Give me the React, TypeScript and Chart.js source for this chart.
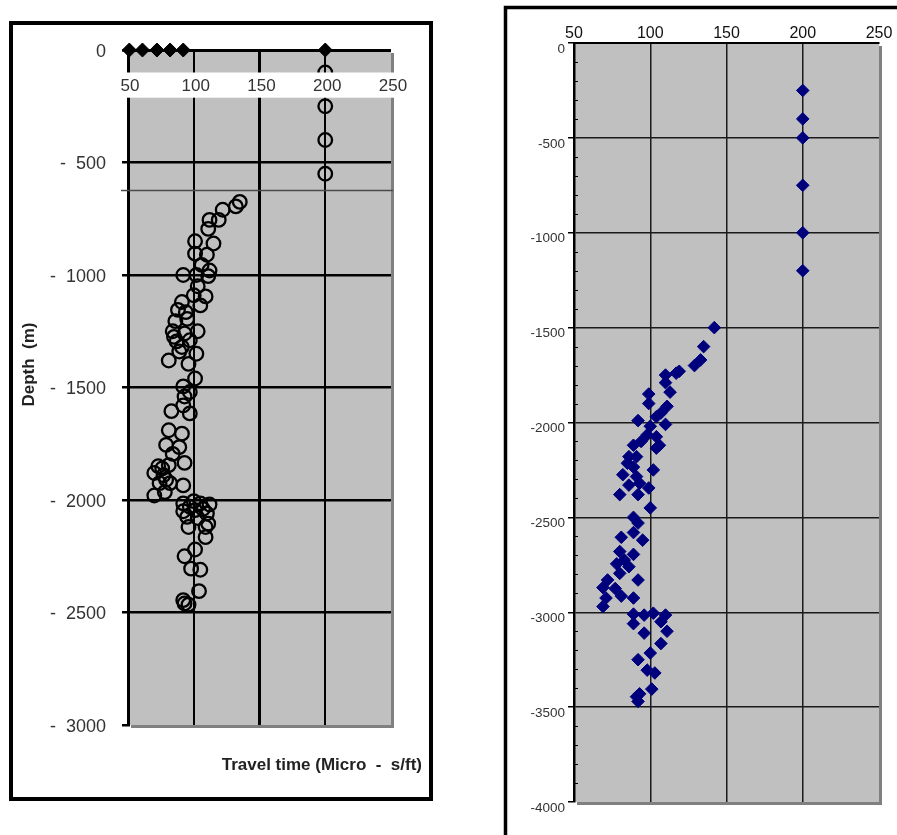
import { useEffect, useRef } from 'react';
import { Chart, registerables } from 'chart.js';

Chart.register(...registerables);

const FONT = '"Liberation Sans", Arial, Helvetica, sans-serif';
const CLEAR = 'rgba(0,0,0,0)';

// ---------- Left log: sonic travel time against depth (m) ----------
const LEFT_X_TICKS = [50, 100, 150, 200, 250];
const LEFT_X_TITLE = 'Travel time (Micro  -  s/ft)';
const LEFT_Y_TITLE = 'Depth  (m)';

// markers sitting on the surface line
const LEFT_SURFACE_TT = [51, 61, 72, 82, 92, 200];
const LEFT_SURFACE_DEPTH = [0, 0, 0, 0, 0, 0];

// shallow readings on the 200 line
const LEFT_SHALLOW_TT = [200, 200, 200, 200];
const LEFT_SHALLOW_DEPTH = [-100, -250, -400, -550];

// main log section
const LEFT_TT = [
  135, 132, 122, 112, 119, 111, 101, 115, 101, 110,
  106, 112, 92, 102, 111, 103, 109, 100, 91, 105,
  94, 88, 86, 95, 103, 84, 93, 87, 97, 85,
  102, 89, 91, 81, 96, 101, 92, 97, 93, 92,
  83, 97, 81, 91, 79, 89, 84, 93, 73, 81,
  76, 70, 77, 74, 82, 79, 92, 70, 78, 92,
  100, 105, 112, 97, 92, 101, 110, 107, 95, 103,
  96, 111, 109, 109, 101, 93, 98, 105, 104, 92,
  96, 93,
];
const LEFT_DEPTH = [
  -675, -695, -710, -755, -755, -795, -850, -860, -905, -910,
  -955, -980, -1000, -1000, -1005, -1050, -1095, -1090, -1120, -1135,
  -1165, -1155, -1205, -1195, -1250, -1250, -1260, -1295, -1290, -1275,
  -1350, -1340, -1320, -1380, -1395, -1460, -1495, -1520, -1540, -1580,
  -1605, -1615, -1690, -1705, -1755, -1765, -1795, -1835, -1850, -1845,
  -1860, -1880, -1890, -1925, -1925, -1910, -1935, -1980, -1965, -2015,
  -2005, -2015, -2020, -2030, -2050, -2045, -2060, -2040, -2075, -2080,
  -2120, -2105, -2120, -2165, -2220, -2250, -2305, -2310, -2405, -2445,
  -2465, -2460,
];

// white header strip carrying the travel-time labels (depth range)
const LEFT_LABEL_BAND = [-100, -212];
// seam where the upper section was joined on
const LEFT_SPLICE_DEPTH = -622;

// ---------- Right log ----------
const RIGHT_TT = [
  200, 200, 200, 200, 200, 200,
  142, 135, 133, 129, 119, 117, 110, 110, 113, 99,
  99, 111, 107, 104, 92, 110, 100, 98, 104, 94,
  106, 89, 104, 86, 91, 85, 89, 102, 82, 91,
  93, 86, 99, 80, 92, 100, 89, 92, 89, 81,
  95, 80, 89, 83, 78, 86, 80, 72, 92, 69,
  77, 81, 71, 89, 69, 89, 96, 102, 110, 89,
  107, 96, 111, 107, 100, 92, 98, 103, 101, 93,
  91, 92,
];
const RIGHT_DEPTH = [
  -250, -400, -500, -750, -1000, -1200,
  -1500, -1600, -1670, -1700, -1730, -1740, -1750, -1790, -1840, -1850,
  -1900, -1915, -1950, -1970, -1990, -2010, -2020, -2065, -2075, -2100,
  -2120, -2120, -2135, -2180, -2180, -2215, -2235, -2250, -2275, -2285,
  -2320, -2330, -2345, -2380, -2380, -2450, -2500, -2530, -2580, -2605,
  -2620, -2680, -2695, -2725, -2745, -2760, -2795, -2830, -2830, -2870,
  -2875, -2915, -2925, -2925, -2970, -3010, -3015, -3005, -3015, -3060,
  -3050, -3110, -3100, -3165, -3215, -3250, -3305, -3320, -3405, -3430,
  -3445, -3470,
];

const pts = (xs: number[], ys: number[]) => xs.map((x, i) => ({ x, y: ys[i] }));

// grey plot area with a dark drop edge on the right and bottom
function paintPlotArea(chart: any) {
  const { ctx, chartArea: a } = chart;
  ctx.save();
  ctx.fillStyle = '#808080';
  ctx.fillRect(a.left + 3, a.top + 3, a.right - a.left, a.bottom - a.top);
  ctx.fillStyle = '#c0c0c0';
  ctx.fillRect(a.left, a.top, a.right - a.left, a.bottom - a.top);
  ctx.restore();
}

const leftDecor = {
  id: 'leftDecor',
  beforeDraw(chart: any) {
    paintPlotArea(chart);
  },
  beforeDatasetsDraw(chart: any) {
    const { ctx, chartArea: a, scales } = chart;
    const py = Math.round(scales.y.getPixelForValue(LEFT_SPLICE_DEPTH)) + 0.5;
    ctx.save();
    ctx.strokeStyle = '#4a4a4a';
    ctx.lineWidth = 1.5;
    ctx.beginPath();
    ctx.moveTo(a.left - 7, py);
    ctx.lineTo(a.right + 2, py);
    ctx.stroke();
    ctx.restore();
  },
  afterDatasetsDraw(chart: any) {
    const { ctx, chartArea: a, scales } = chart;
    const top = scales.y.getPixelForValue(LEFT_LABEL_BAND[0]);
    const bot = scales.y.getPixelForValue(LEFT_LABEL_BAND[1]);
    ctx.save();
    ctx.fillStyle = '#ffffff';
    ctx.fillRect(a.left - 6, top, chart.width - 10 - (a.left - 6), bot - top);
    ctx.fillStyle = '#333333';
    ctx.font = `17px ${FONT}`;
    ctx.textAlign = 'center';
    ctx.textBaseline = 'middle';
    LEFT_X_TICKS.forEach((v) => {
      ctx.fillText(String(v), scales.x.getPixelForValue(v) + 2, (top + bot) / 2 + 1);
    });
    ctx.restore();
  },
  afterDraw(chart: any) {
    const { ctx, chartArea: a } = chart;
    ctx.save();
    ctx.strokeStyle = '#000';
    ctx.lineWidth = 4;
    ctx.strokeRect(11, 23, chart.width - 20, chart.height - 59);
    ctx.fillStyle = '#222';
    ctx.font = `bold 17px ${FONT}`;
    ctx.textBaseline = 'middle';
    ctx.textAlign = 'right';
    ctx.fillText(LEFT_X_TITLE, a.right + 31, a.bottom + 40);
    ctx.translate(29, (a.top + a.bottom) / 2 - 23);
    ctx.rotate(-Math.PI / 2);
    ctx.textAlign = 'center';
    ctx.fillText(LEFT_Y_TITLE, 0, 0);
    ctx.restore();
  },
};

const rightDecor = {
  id: 'rightDecor',
  beforeDraw(chart: any) {
    paintPlotArea(chart);
  },
  afterDraw(chart: any) {
    const { ctx, chartArea: a, scales } = chart;
    ctx.save();
    ctx.strokeStyle = '#000';
    ctx.lineWidth = 1;
    scales.y.ticks.forEach((t: any) => {
      if (Math.round(t.value) % 500 !== 0) {
        const py = Math.round(scales.y.getPixelForValue(t.value)) + 0.5;
        ctx.beginPath();
        ctx.moveTo(a.left, py);
        ctx.lineTo(a.left + 4, py);
        ctx.stroke();
      }
    });
    ctx.lineWidth = 3.5;
    ctx.beginPath();
    ctx.moveTo(65.5, chart.height);
    ctx.lineTo(65.5, 7.5);
    ctx.lineTo(chart.width, 7.5);
    ctx.stroke();
    ctx.restore();
  },
};

function makeLeft(canvas: HTMLCanvasElement) {
  return new Chart(canvas, {
    type: 'scatter',
    data: {
      datasets: [
        {
          data: [...pts(LEFT_SHALLOW_TT, LEFT_SHALLOW_DEPTH), ...pts(LEFT_TT, LEFT_DEPTH)],
          pointStyle: 'circle',
          pointRadius: 6.8,
          pointBorderWidth: 2.3,
          pointBorderColor: '#000',
          pointBackgroundColor: CLEAR,
        },
        {
          data: pts(LEFT_SURFACE_TT, LEFT_SURFACE_DEPTH),
          pointStyle: 'rectRot',
          pointRadius: 7,
          pointBorderWidth: 1,
          pointBorderColor: '#000',
          pointBackgroundColor: '#000',
          clip: false,
        },
      ],
    },
    options: {
      responsive: false,
      animation: false,
      events: [],
      layout: { padding: { top: 50, right: 49, bottom: 0, left: 0 } },
      plugins: { legend: { display: false }, tooltip: { enabled: false } },
      scales: {
        x: {
          type: 'linear',
          position: 'bottom',
          min: 50,
          max: 250,
          afterFit: (s: any) => {
            s.height = 110;
          },
          ticks: { display: false, stepSize: 50 },
          grid: {
            drawTicks: false,
            color: (c: any) => {
              const v = c.tick?.value;
              return v === 50 || v === 250 ? CLEAR : '#000';
            },
            lineWidth: (c: any) => (c.tick?.value === 150 ? 3 : 2),
          },
          border: { display: false },
        },
        y: {
          type: 'linear',
          min: -3000,
          max: 0,
          afterFit: (s: any) => {
            s.width = 128;
          },
          ticks: {
            stepSize: 500,
            padding: 16,
            labelOffset: 2,
            color: '#333',
            font: { family: FONT, size: 18 },
            callback: (v: any) => (Number(v) === 0 ? '0' : '-  ' + Math.abs(Number(v))),
          },
          grid: {
            color: (c: any) => (c.tick?.value === -3000 ? CLEAR : '#000'),
            lineWidth: (c: any) => (c.tick?.value === 0 ? 3 : 2.5),
            tickLength: 6,
            tickColor: '#000',
            tickWidth: 2.5,
          },
          border: { display: true, color: '#000', width: 3 },
        },
      },
    },
    plugins: [leftDecor],
  } as any);
}

function makeRight(canvas: HTMLCanvasElement) {
  const major = (c: any) => Math.round(c.tick?.value ?? 1) % 500 === 0;
  return new Chart(canvas, {
    type: 'scatter',
    data: {
      datasets: [
        {
          data: pts(RIGHT_TT, RIGHT_DEPTH),
          pointStyle: 'rectRot',
          pointRadius: 6.3,
          pointBorderWidth: 1,
          pointBorderColor: '#000080',
          pointBackgroundColor: '#00007c',
        },
      ],
    },
    options: {
      responsive: false,
      animation: false,
      events: [],
      layout: { padding: { top: 0, right: 18, bottom: 33, left: 0 } },
      plugins: { legend: { display: false }, tooltip: { enabled: false } },
      scales: {
        x: {
          type: 'linear',
          position: 'top',
          min: 50,
          max: 250,
          afterFit: (s: any) => {
            s.height = 43;
          },
          ticks: { stepSize: 50, padding: 0, color: '#111', font: { family: FONT, size: 16 } },
          grid: {
            drawTicks: false,
            color: (c: any) => {
              const v = c.tick?.value;
              return v === 50 || v === 250 ? CLEAR : '#1a1a1a';
            },
            lineWidth: 1.5,
          },
          border: { display: true, color: '#000', width: 2 },
        },
        y: {
          type: 'linear',
          min: -4000,
          max: 0,
          afterFit: (s: any) => {
            s.width = 134;
          },
          ticks: {
            stepSize: 100,
            autoSkip: false,
            padding: 3,
            labelOffset: 6,
            color: '#333',
            font: { family: FONT, size: 13.5 },
            callback: (v: any) => (Math.round(Number(v)) % 500 === 0 ? String(v) : ''),
          },
          grid: {
            color: (c: any) => {
              const v = c.tick?.value;
              if (v === 0 || v === -4000) return CLEAR;
              return major(c) ? '#1a1a1a' : CLEAR;
            },
            lineWidth: 1.5,
            tickLength: 6,
            tickColor: (c: any) => (major(c) ? '#000' : CLEAR),
            tickWidth: 1.5,
          },
          border: { display: true, color: '#000', width: 2.5 },
        },
      },
    },
    plugins: [rightDecor],
  } as any);
}

export default function App() {
  const leftRef = useRef<HTMLCanvasElement>(null);
  const rightRef = useRef<HTMLCanvasElement>(null);

  useEffect(() => {
    const charts: Chart[] = [];
    if (leftRef.current) charts.push(makeLeft(leftRef.current));
    if (rightRef.current) charts.push(makeRight(rightRef.current));
    return () => charts.forEach((c) => c.destroy());
  }, []);

  return (
    <div
      style={{
        position: 'absolute',
        left: 0,
        top: 0,
        width: 897,
        height: 835,
        background: '#fff',
        overflow: 'hidden',
      }}
    >
      <canvas
        ref={leftRef}
        width={440}
        height={835}
        style={{ position: 'absolute', left: 0, top: 0, width: 440, height: 835 }}
      />
      <canvas
        ref={rightRef}
        width={457}
        height={835}
        style={{ position: 'absolute', left: 440, top: 0, width: 457, height: 835 }}
      />
    </div>
  );
}
